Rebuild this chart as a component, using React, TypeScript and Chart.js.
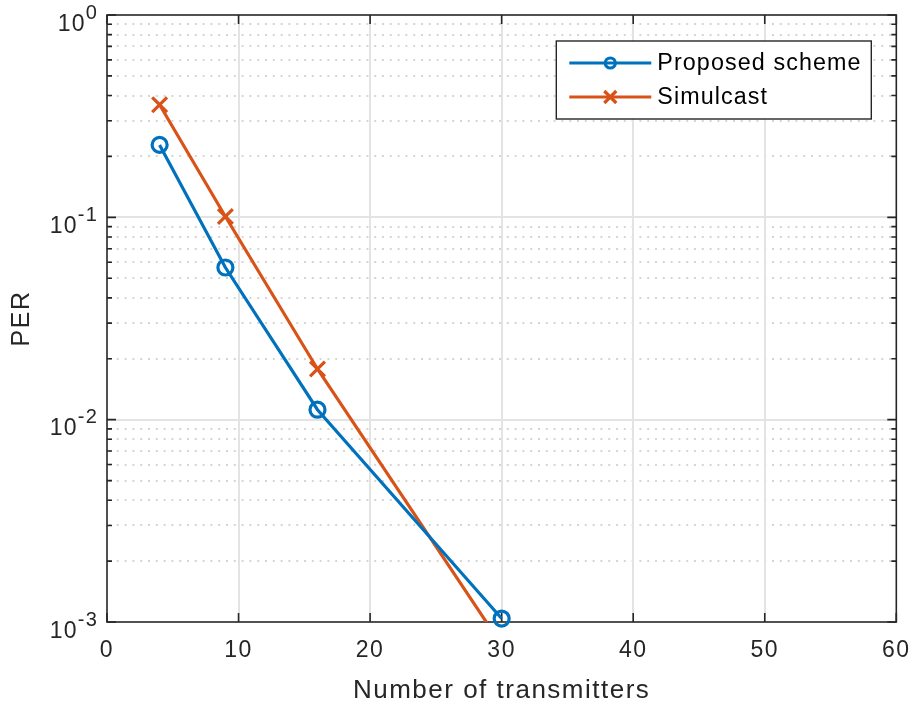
import React, { useEffect, useRef } from 'react';
import { Chart, registerables } from 'chart.js';

Chart.register(...registerables);

// ---- data ----
const seriesNames = ['Proposed scheme', 'Simulcast'];
const xProposed = [4, 9, 16, 30];
const perProposed = [0.228, 0.0565, 0.0112, 0.00104];
const xSimulcast = [4, 9, 16, 30];
const perSimulcast = [0.36, 0.101, 0.0178, 0.00077];
const xTicks = [0, 10, 20, 30, 40, 50, 60];
const yDecades = [1e-3, 1e-2, 1e-1, 1];
const yExponents = ['-3', '-2', '-1', '0'];
const minorMultipliers = [2, 3, 4, 5, 6, 7, 8, 9];
const xLabel = 'Number of transmitters';
const yLabel = 'PER';
const seriesColors = ['#0072BD', '#D95319'];

const FONT = "'Liberation Sans', Arial, Helvetica, sans-serif";
const AX = '#262626';

const matlabPlugin = {
  id: 'matlabStyle',
  beforeDraw(chart: any) {
    (chart.ctx as any).letterSpacing = '1.5px';
  },
  beforeDatasetsDraw(chart: any) {
    const { ctx, chartArea: a, scales } = chart;
    const xs = scales.x;
    const ys = scales.y;
    ctx.save();
    // minor dotted grid
    ctx.strokeStyle = '#c8c8c8';
    ctx.lineWidth = 1.6;
    ctx.setLineDash([2, 5.8]);
    yDecades.slice(0, -1).forEach((d) =>
      minorMultipliers.forEach((m) => {
        const y = Math.round(ys.getPixelForValue(d * m));
        ctx.beginPath();
        ctx.moveTo(a.left + 2, y);
        ctx.lineTo(a.right, y);
        ctx.stroke();
      })
    );
    ctx.setLineDash([]);
    // major grid
    ctx.strokeStyle = '#e3e3e3';
    ctx.lineWidth = 2;
    yDecades.slice(1, -1).forEach((v) => {
      const y = Math.round(ys.getPixelForValue(v));
      ctx.beginPath();
      ctx.moveTo(a.left, y);
      ctx.lineTo(a.right, y);
      ctx.stroke();
    });
    xTicks.slice(1, -1).forEach((v) => {
      const x = Math.round(xs.getPixelForValue(v));
      ctx.beginPath();
      ctx.moveTo(x, a.top);
      ctx.lineTo(x, a.bottom);
      ctx.stroke();
    });
    // box
    ctx.strokeStyle = AX;
    ctx.lineWidth = 1.6;
    ctx.strokeRect(a.left, a.top, a.right - a.left, a.bottom - a.top);
    // ticks
    const major = 9;
    const minor = 5;
    ctx.beginPath();
    xTicks.forEach((v) => {
      const x = xs.getPixelForValue(v);
      ctx.moveTo(x, a.bottom);
      ctx.lineTo(x, a.bottom - major);
      ctx.moveTo(x, a.top);
      ctx.lineTo(x, a.top + major);
    });
    yDecades.forEach((v) => {
      const y = ys.getPixelForValue(v);
      ctx.moveTo(a.left, y);
      ctx.lineTo(a.left + major, y);
      ctx.moveTo(a.right, y);
      ctx.lineTo(a.right - major, y);
    });
    yDecades.slice(0, -1).forEach((d) =>
      minorMultipliers.forEach((m) => {
        const y = ys.getPixelForValue(d * m);
        ctx.moveTo(a.left, y);
        ctx.lineTo(a.left + minor, y);
        ctx.moveTo(a.right, y);
        ctx.lineTo(a.right - minor, y);
      })
    );
    ctx.stroke();
    // y tick labels 10^n
    ctx.fillStyle = AX;
    ctx.textBaseline = 'alphabetic';
    ctx.textAlign = 'left';
    (ctx as any).letterSpacing = '1.2px';
    yDecades.forEach((v, i) => {
      const y = ys.getPixelForValue(v);
      const exp = yExponents[i];
      ctx.font = `20px ${FONT}`;
      const ew = ctx.measureText(exp).width;
      const right = a.left - 9;
      ctx.fillText(exp, right - ew, y + 3.5);
      ctx.font = `23px ${FONT}`;
      const bw = ctx.measureText('10').width;
      ctx.fillText('10', right - ew - bw, y + 15.5);
    });
    ctx.restore();
  },
  afterDatasetsDraw(chart: any) {
    const { ctx, chartArea: a } = chart;
    const ds = chart.data.datasets;
    const left = a.right - 340;
    const top = a.top + 26;
    const w = 315;
    const h = 78;
    ctx.save();
    ctx.fillStyle = '#ffffff';
    ctx.fillRect(left, top, w, h);
    ctx.strokeStyle = AX;
    ctx.lineWidth = 1.4;
    ctx.strokeRect(left, top, w, h);
    ds.forEach((d: any, i: number) => {
      const y = top + 22 + i * 34;
      ctx.strokeStyle = d.borderColor;
      ctx.lineWidth = 3.2;
      ctx.beginPath();
      ctx.moveTo(left + 13, y);
      ctx.lineTo(left + 95, y);
      ctx.stroke();
      const cx = left + 54;
      ctx.beginPath();
      if (d.pointStyle === 'circle') {
        ctx.arc(cx, y, 5, 0, Math.PI * 2);
      } else {
        const r = 6;
        ctx.moveTo(cx - r, y - r);
        ctx.lineTo(cx + r, y + r);
        ctx.moveTo(cx - r, y + r);
        ctx.lineTo(cx + r, y - r);
      }
      ctx.stroke();
      ctx.fillStyle = '#000000';
      ctx.font = `23.3px ${FONT}`;
      (ctx as any).letterSpacing = '1.1px';
      ctx.textBaseline = 'middle';
      ctx.textAlign = 'left';
      ctx.fillText(d.label, left + 101, y + 1);
    });
    ctx.restore();
  },
};

export default function App() {
  const ref = useRef<HTMLCanvasElement>(null);
  useEffect(() => {
    document.body.style.margin = '0';
    const chart = new Chart(ref.current as HTMLCanvasElement, {
      type: 'line',
      data: {
        datasets: [
          {
            label: seriesNames[0],
            data: xProposed.map((x, i) => ({ x, y: perProposed[i] })),
            borderColor: seriesColors[0],
            backgroundColor: 'rgba(0,0,0,0)',
            borderWidth: 3.2,
            pointStyle: 'circle',
            pointRadius: 7.5,
            pointBorderWidth: 3.2,
            pointBackgroundColor: 'rgba(0,0,0,0)',
            pointBorderColor: seriesColors[0],
            clip: false as any,
          },
          {
            label: seriesNames[1],
            data: xSimulcast.map((x, i) => ({ x, y: perSimulcast[i] })),
            borderColor: seriesColors[1],
            backgroundColor: 'rgba(0,0,0,0)',
            borderWidth: 3.2,
            pointStyle: 'crossRot',
            pointRadius: 10.5,
            pointBorderWidth: 3.2,
            pointBorderColor: seriesColors[1],
          },
        ],
      },
      options: {
        responsive: false,
        animation: false,
        events: [],
        layout: { padding: { top: 15, right: 13, left: 0, bottom: 0 } },
        plugins: { legend: { display: false }, tooltip: { enabled: false } },
        scales: {
          x: {
            type: 'linear',
            min: 0,
            max: 60,
            grid: { display: false, drawTicks: false },
            border: { display: false },
            ticks: {
              stepSize: 10,
              padding: 15,
              color: AX,
              font: { family: FONT, size: 23 },
              maxRotation: 0,
            },
            afterBuildTicks: (s: any) => {
              s.ticks = xTicks.map((v) => ({ value: v }));
            },
            afterFit: (s: any) => {
              s.height = 85;
              s.paddingLeft = 0;
              s.paddingRight = 0;
            },
            title: {
              display: true,
              text: xLabel,
              color: AX,
              font: { family: FONT, size: 26 },
              padding: { top: 0, bottom: 1 },
            },
          },
          y: {
            type: 'logarithmic',
            min: 1e-3,
            max: 1,
            grid: { display: false, drawTicks: false },
            border: { display: false },
            ticks: { display: false },
            afterFit: (s: any) => {
              s.width = 107;
              s.paddingTop = 0;
              s.paddingBottom = 0;
            },
            title: {
              display: true,
              text: yLabel,
              color: AX,
              font: { family: FONT, size: 25 },
              padding: { top: 7, bottom: 0 },
            },
          },
        },
      },
      plugins: [matlabPlugin],
    });
    return () => chart.destroy();
  }, []);
  return (
    <div style={{ width: 910, height: 707 }}>
      <canvas ref={ref} width={910} height={707} style={{ display: 'block' }} />
    </div>
  );
}
